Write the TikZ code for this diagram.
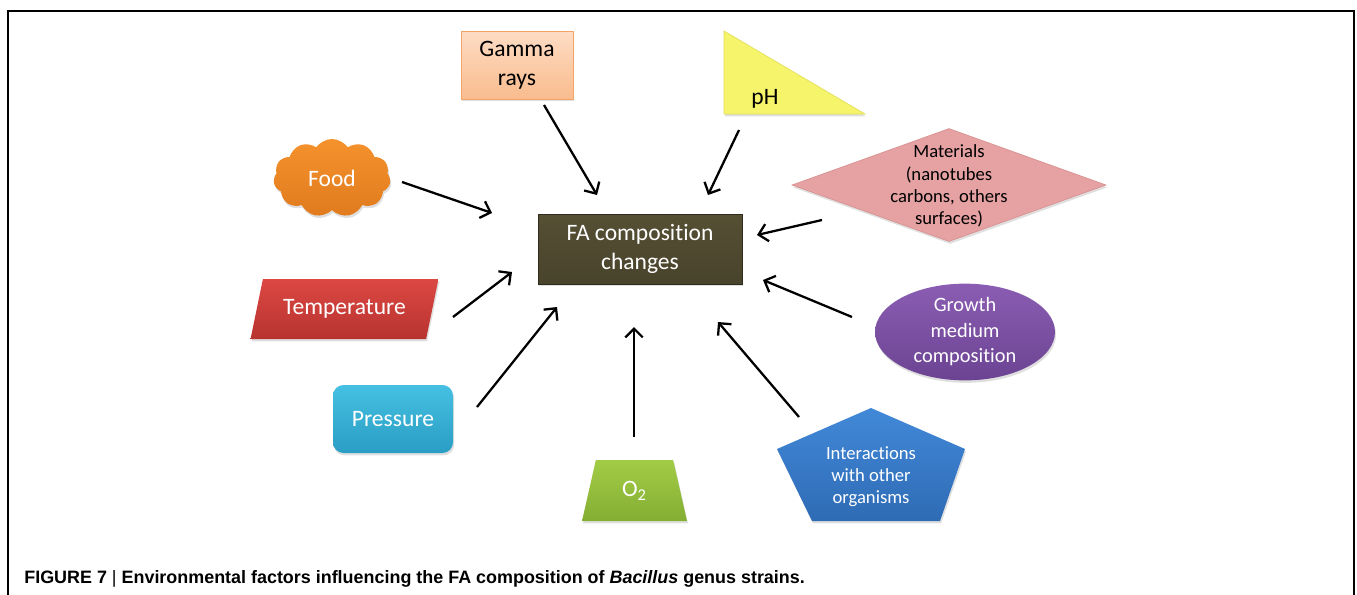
\documentclass[tikz,border=0pt]{standalone}
\usepackage{fontspec}
\setmainfont{Carlito}[Ligatures=CommonOff]
\newfontfamily\capfont{Liberation Sans}
\usepackage{tikz}
\usetikzlibrary{graphs}
\usetikzlibrary{shapes.geometric,shapes.symbols,arrows.meta,shadows}

\definecolor{gammatop}{HTML}{FDDCC4}
\definecolor{gammabot}{HTML}{F9BC8E}
\definecolor{gammaline}{HTML}{F4A468}
\definecolor{phfill}{HTML}{F6F46A}
\definecolor{phline}{HTML}{E2DE5A}
\definecolor{foodtop}{HTML}{F5922C}
\definecolor{foodbot}{HTML}{E07B1E}
\definecolor{fatop}{HTML}{554F34}
\definecolor{fabot}{HTML}{48432B}
\definecolor{faline}{HTML}{2F2C1C}
\definecolor{matfill}{HTML}{E6A2A2}
\definecolor{matline}{HTML}{D99090}
\definecolor{temptop}{HTML}{DC4843}
\definecolor{tempbot}{HTML}{B8332F}
\definecolor{presstop}{HTML}{45C0E2}
\definecolor{pressbot}{HTML}{2A9DC4}
\definecolor{otwotop}{HTML}{A2CC46}
\definecolor{otwobot}{HTML}{84AE32}
\definecolor{growtop}{HTML}{8A5DB2}
\definecolor{growbot}{HTML}{6C4393}
\definecolor{intertop}{HTML}{4189D8}
\definecolor{interbot}{HTML}{2F6BB5}

\begin{document}
\begin{tikzpicture}[
  >={Straight Barb[length=5pt,width=10pt]},
  lbl/.style={font=\fontsize{13.4}{16.5}\selectfont, align=center, text=white},
  small/.style={font=\fontsize{10.6}{12.7}\selectfont, align=center},
  shade box/.style={drop shadow={shadow xshift=0.6pt, shadow yshift=-1.4pt, opacity=0.25}},
]
  \useasboundingbox (0,0) rectangle (27.14,-11.88);
  \draw[line width=1.4pt] (0.16,-11.95) -- (0.16,-0.22) -- (27.08,-0.22) -- (27.08,-11.95);

  \node[draw=gammaline, top color=gammatop, bottom color=gammabot, minimum width=2.24cm, minimum height=1.36cm, shade box, lbl, text=black] (gamma) at (10.34,-1.30) {Gamma\\rays};
  \filldraw[fill=phfill, draw=phline, shade box] (14.48,-0.62) -- (14.48,-2.28) -- (17.30,-2.28) -- cycle;
  \node[lbl, text=black] (ph) at (15.30,-1.98) {pH};
  \node[cloud, cloud puffs=11, cloud puff arc=110, minimum width=2.34cm, minimum height=1.56cm, inner sep=0pt, top color=foodtop, bottom color=foodbot, shade box, lbl] (food) at (6.64,-3.56) {Food};
  \node[draw=faline, top color=fatop, bottom color=fabot, minimum width=4.08cm, minimum height=1.40cm, shade box, lbl] (fa) at (12.80,-4.98) {FA composition\\changes};
  \node[diamond, fill=matfill, draw=matline, minimum width=6.28cm, minimum height=2.26cm, inner sep=0pt, shade box] (mat) at (18.98,-3.70) {};
  \node[small] (matlbl) at (18.98,-3.72) {Materials\\(nanotubes\\carbons, others\\surfaces)};
  \node[trapezium, trapezium left angle=71.6, trapezium right angle=108.4, trapezium stretches=true, minimum width=3.78cm, minimum height=1.2cm, top color=temptop, bottom color=tempbot, shade box, lbl] (temp) at (6.89,-6.18) {Temperature};
  \node[rounded corners=6pt, minimum width=2.4cm, minimum height=1.36cm, top color=presstop, bottom color=pressbot, shade box, lbl] (press) at (7.86,-8.38) {Pressure};
  \node[trapezium, trapezium angle=78, trapezium stretches=true, minimum width=2.1cm, minimum height=1.22cm, top color=otwotop, bottom color=otwobot, shade box, lbl] (otwo) at (12.69,-9.81) {O\textsubscript{2}};
  \node[ellipse, minimum width=3.6cm, minimum height=1.78cm, inner sep=0pt, top color=growtop, bottom color=growbot, shade box, lbl, font=\fontsize{11.6}{14.5}\selectfont] (growth) at (19.30,-6.64) {Growth\\medium\\composition};
  \shade[top color=intertop, bottom color=interbot, shade box] (17.42,-8.16) -- (19.30,-8.98) -- (18.80,-10.42) -- (16.24,-10.42) -- (15.54,-8.98) -- cycle;
  \node[small, text=white] (inter) at (17.42,-9.53) {Interactions\\with other\\organisms};

  \node[anchor=base west, inner sep=0pt, font=\capfont\fontsize{10.2}{12}\selectfont] (caption) at (0.48,-11.66) {\bfseries FIGURE 7 {\mdseries|} Environmental factors influencing the FA composition of \textit{Bacillus} genus strains.};

  \coordinate (g1) at (10.88,-2.10);
  \coordinate (g2) at (11.94,-3.90);
  \coordinate (p1) at (14.78,-2.60);
  \coordinate (p2) at (14.16,-3.90);
  \coordinate (f1) at (8.04,-3.64);
  \coordinate (f2) at (9.84,-4.26);
  \coordinate (m1) at (16.44,-4.40);
  \coordinate (m2) at (15.14,-4.70);
  \coordinate (t1) at (9.06,-6.34);
  \coordinate (t2) at (10.24,-5.44);
  \coordinate (s1) at (9.54,-8.14);
  \coordinate (s2) at (11.14,-6.14);
  \coordinate (o1) at (12.68,-8.74);
  \coordinate (o2) at (12.68,-6.54);
  \coordinate (i1) at (15.98,-8.34);
  \coordinate (i2) at (14.36,-6.44);
  \coordinate (r1) at (17.04,-6.34);
  \coordinate (r2) at (15.26,-5.60);
  \graph[edges={line width=1.3pt}]{(g1) -> (g2)};
  \graph[edges={line width=1.3pt}]{(p1) -> (p2)};
  \graph[edges={line width=1.3pt}]{(f1) -> (f2)};
  \graph[edges={line width=1.3pt}]{(m1) -> (m2)};
  \graph[edges={line width=1.3pt}]{(t1) -> (t2)};
  \graph[edges={line width=1.3pt}]{(s1) -> (s2)};
  \graph[edges={line width=1.3pt}]{(o1) -> (o2)};
  \graph[edges={line width=1.3pt}]{(i1) -> (i2)};
  \graph[edges={line width=1.3pt}]{(r1) -> (r2)};
\end{tikzpicture}
\end{document}
